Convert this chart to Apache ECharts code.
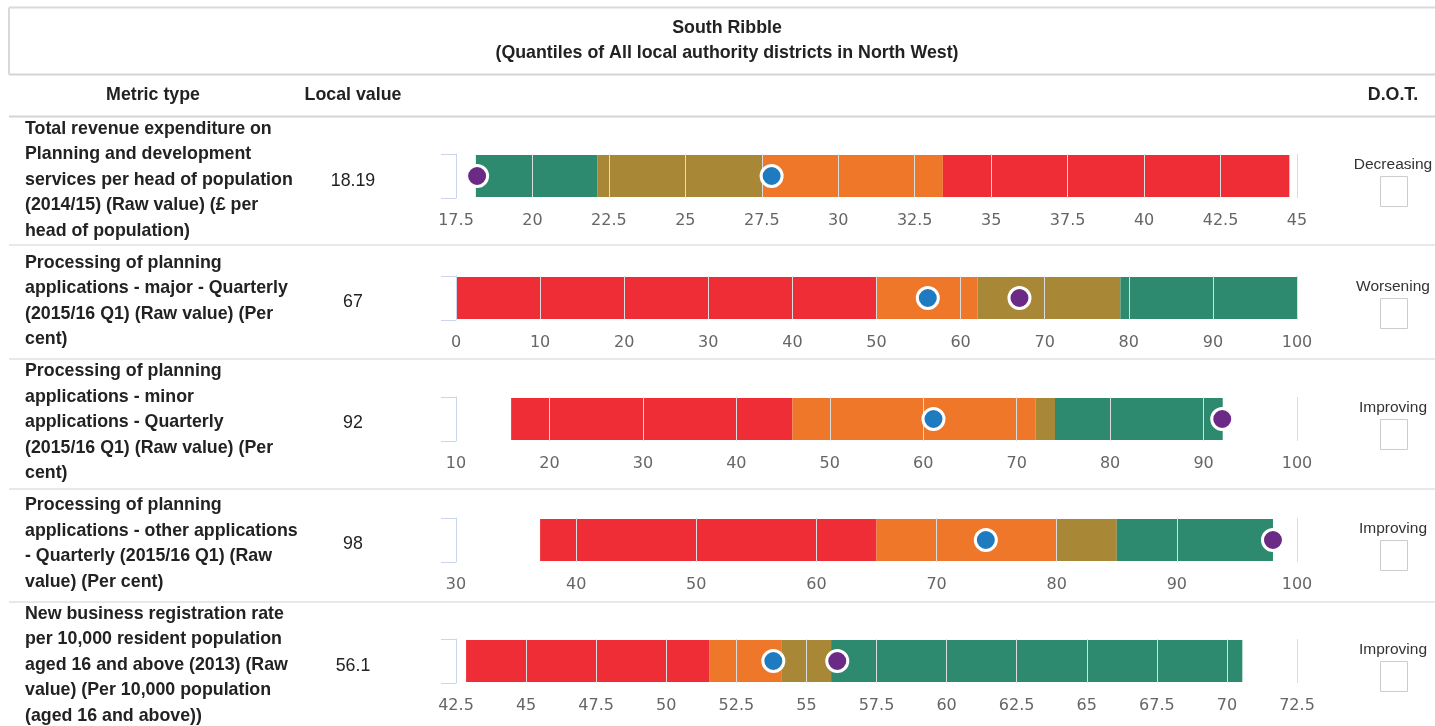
<!DOCTYPE html>
<html>
<head>
<meta charset="utf-8">
<title>South Ribble</title>
<script src="https://cdn.jsdelivr.net/npm/echarts@6/dist/echarts.min.js"></script>
<style>
  html, body { margin: 0; padding: 0; background: #fff; }
  #main { width: 1435px; height: 726px; }
</style>
</head>
<body>
<div id="main"></div>
<script>
'use strict';

// rows of the table
var metrics = [
  'Total revenue expenditure on\nPlanning and development\nservices per head of population\n(2014/15) (Raw value) (£ per\nhead of population)',
  'Processing of planning\napplications - major - Quarterly\n(2015/16 Q1) (Raw value) (Per\ncent)',
  'Processing of planning\napplications - minor\napplications - Quarterly\n(2015/16 Q1) (Raw value) (Per\ncent)',
  'Processing of planning\napplications - other applications\n- Quarterly (2015/16 Q1) (Raw\nvalue) (Per cent)',
  'New business registration rate\nper 10,000 resident population\naged 16 and above (2013) (Raw\nvalue) (Per 10,000 population\n(aged 16 and above))'
];
var localValues = [18.19, 67, 92, 98, 56.1];
var localLabels = ['18.19', '67', '92', '98', '56.1'];
var benchmarkValues = [27.82, 56.1, 61.1, 74.1, 53.82];
var directions = ['Decreasing', 'Worsening', 'Improving', 'Improving', 'Improving'];

// quantile boundaries (min, q1, q2, q3, max)
var quantiles = [
  [18.15, 22.13, 27.53, 33.42, 44.75],
  [0, 50, 62, 79, 100],
  [15.9, 46, 72, 74.1, 92.05],
  [37, 65, 80, 85, 98],
  [42.86, 51.53, 54.1, 55.88, 70.55]
];
// true when a low value is the good end
var lowIsGood = [true, false, false, false, false];

// axis ranges
var axisMin = [17.5, 0, 10, 30, 42.5];
var axisMax = [45, 100, 100, 100, 72.5];
var axisStep = [2.5, 10, 10, 10, 2.5];

var RED = '#ee2d36', ORANGE = '#ef7729', OLIVE = '#a88836', GREEN = '#2d8a6e';
var BLUE = '#1f7bbf', PURPLE = '#6c2a87';

var gridTops = [154, 276, 397, 518, 639];
var textMid = [180, 301, 422.5, 543.5, 665];
var rowLines = [245, 359, 489, 602];

var BOLD = 'bold 17.8px "Liberation Sans", Arial, sans-serif';
var REG = '17.8px "Liberation Sans", Arial, sans-serif';

var chart = echarts.init(document.getElementById('main'));

var grids = [], xAxes = [], yAxes = [], series = [], graphic = [];

function hline(y, color) {
  graphic.push({
    type: 'line', silent: true,
    shape: { x1: 9, y1: y, x2: 1435, y2: y },
    style: { stroke: color, lineWidth: 2 }
  });
}

// table frame
hline(7.5, '#d9d9d9');
hline(74.5, '#d4d4d4');
hline(116.5, '#d4d4d4');
graphic.push({
  type: 'line', silent: true,
  shape: { x1: 9, y1: 7.5, x2: 9, y2: 74.5 },
  style: { stroke: '#d9d9d9', lineWidth: 2 }
});
rowLines.forEach(function (y) { hline(y, '#e8e8e8'); });

graphic.push(
  { type: 'text', x: 727, y: 28, style: { text: 'South Ribble', font: BOLD, fill: '#222', align: 'center', verticalAlign: 'middle' } },
  { type: 'text', x: 727, y: 53, style: { text: '(Quantiles of All local authority districts in North West)', font: BOLD, fill: '#222', align: 'center', verticalAlign: 'middle' } },
  { type: 'text', x: 153, y: 95, style: { text: 'Metric type', font: BOLD, fill: '#222', align: 'center', verticalAlign: 'middle' } },
  { type: 'text', x: 353, y: 95, style: { text: 'Local value', font: BOLD, fill: '#222', align: 'center', verticalAlign: 'middle' } },
  { type: 'text', x: 1393, y: 95, style: { text: 'D.O.T.', font: BOLD, fill: '#222', align: 'center', verticalAlign: 'middle' } }
);

metrics.forEach(function (m, i) {
  var top = gridTops[i];

  graphic.push({
    type: 'text', x: 25, y: textMid[i],
    style: { text: m, font: BOLD, fill: '#222', align: 'left', verticalAlign: 'middle', lineHeight: 25.5 }
  });
  graphic.push({
    type: 'text', x: 353, y: textMid[i] + 1,
    style: { text: localLabels[i], font: REG, fill: '#222', align: 'center', verticalAlign: 'middle' }
  });
  graphic.push({
    type: 'text', x: 1393, y: top + 11,
    style: { text: directions[i], font: '15.5px "Liberation Sans", Arial, sans-serif', fill: '#333', align: 'center', verticalAlign: 'middle' }
  });
  graphic.push({
    type: 'rect', x: 1380.5, y: top + 22.5,
    shape: { width: 27, height: 30 },
    style: { fill: '#fff', stroke: '#cccccc', lineWidth: 1 }
  });

  grids.push({ left: 456, right: 138, top: top, height: 44 });
  xAxes.push({
    type: 'value', gridIndex: i, z: 3,
    min: axisMin[i], max: axisMax[i], interval: axisStep[i],
    axisLine: { show: false }, axisTick: { show: false },
    axisLabel: { color: '#666', fontSize: 16, margin: 15, fontFamily: '"DejaVu Sans", sans-serif' },
    splitLine: { show: true, lineStyle: { color: '#dcdcdc', width: 1 } }
  });
  yAxes.push({
    type: 'category', gridIndex: i, z: 4, data: [''],
    axisLine: { show: true, lineStyle: { color: '#ccd6eb', width: 1 } },
    axisTick: { show: true, length: 15, lineStyle: { color: '#ccd6eb' } },
    axisLabel: { show: false },
    splitLine: { show: false }
  });

  var q = quantiles[i];
  var cols = lowIsGood[i] ? [GREEN, OLIVE, ORANGE, RED] : [RED, ORANGE, OLIVE, GREEN];
  var segs = [];
  for (var k = 0; k < 4; k++) {
    segs.push({ value: [q[k], q[k + 1], 0], itemStyle: { color: cols[k] } });
  }
  series.push({
    type: 'custom', xAxisIndex: i, yAxisIndex: i, z: 2,
    encode: { x: [0, 1], y: 2 },
    data: segs,
    renderItem: function (params, api) {
      var a = api.coord([api.value(0), 0]);
      var b = api.coord([api.value(1), 0]);
      var h = api.size([0, 1])[1] - 2;
      return {
        type: 'rect',
        shape: { x: a[0], y: a[1] - h / 2, width: b[0] - a[0], height: h },
        style: { fill: api.visual('color') }
      };
    }
  });

  series.push({
    type: 'scatter', xAxisIndex: i, yAxisIndex: i, z: 5,
    symbolSize: 21,
    data: [
      { value: [benchmarkValues[i], 0], itemStyle: { color: BLUE } },
      { value: [localValues[i], 0], itemStyle: { color: PURPLE } }
    ],
    itemStyle: { borderColor: '#fff', borderWidth: 3, opacity: 1 }
  });
});

chart.setOption({
  animation: false,
  grid: grids,
  xAxis: xAxes,
  yAxis: yAxes,
  series: series,
  graphic: graphic
});
</script>
</body>
</html>
